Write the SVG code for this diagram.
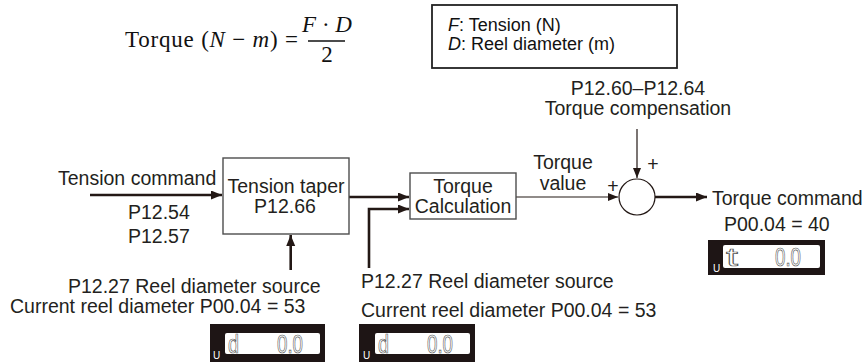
<svg xmlns="http://www.w3.org/2000/svg" width="862" height="362" viewBox="0 0 862 362">
<style>
.t{font-family:"Liberation Sans",Arial,sans-serif;font-size:19.5px;fill:#231f20}
.l{font-family:"Liberation Sans",Arial,sans-serif;font-size:18px;fill:#111}
.m{font-family:"Liberation Serif","DejaVu Serif",serif;font-size:23px;fill:#111}
.c{text-anchor:middle}
.box{fill:#fff;stroke:#4d4d4d;stroke-width:1.4}
.thick{stroke:#231815;stroke-width:2.6;fill:none}
.thin{stroke:#231815;stroke-width:1.2;fill:none}
.lcd{fill:#1e1515}
.scr{fill:#fff}
.u{font-family:"Liberation Sans",Arial,sans-serif;font-size:10px;fill:#fff}
.seg{font-family:"Liberation Sans",Arial,sans-serif;font-size:25px;fill:#fff;stroke:#555;stroke-width:0.7}
</style>
<defs>
<marker id="ah" markerUnits="userSpaceOnUse" markerWidth="12" markerHeight="10" refX="11" refY="4.5" orient="auto"><path d="M0,0 L11,4.5 L0,9 z" fill="#231815"/></marker>
<marker id="as" markerUnits="userSpaceOnUse" markerWidth="11" markerHeight="9" refX="10" refY="4" orient="auto"><path d="M0,0 L10,4 L0,8 z" fill="#231815"/></marker>
</defs>
<rect width="862" height="362" fill="#fff"/>

<g id="formula">
<text class="m" x="125" y="47" textLength="173">Torque (<tspan font-style="italic">N</tspan> − <tspan font-style="italic">m</tspan>) =</text>
<text class="m c" x="327" y="32"><tspan font-style="italic">F</tspan> · <tspan font-style="italic">D</tspan></text>
<line x1="308" y1="41" x2="345" y2="41" stroke="#111" stroke-width="1.3"/>
<text class="m c" x="327" y="62">2</text>
</g>

<g id="legend">
<rect x="432" y="5" width="245" height="63" fill="#fff" stroke="#222" stroke-width="1.8"/>
<text class="l" x="448" y="31"><tspan font-style="italic">F</tspan>: Tension (N)</text>
<text class="l" x="448" y="50"><tspan font-style="italic">D</tspan>: Reel diameter (m)</text>
</g>

<g id="connectors">
<path class="thick" d="M90,195 H222" marker-end="url(#ah)"/>
<path class="thick" d="M290.7,270 V235" marker-end="url(#ah)"/>
<path class="thick" d="M349,197 H409" marker-end="url(#ah)"/>
<path class="thick" d="M369,268 V209 H409" marker-end="url(#ah)"/>
<path class="thin" d="M516,197 H618" marker-end="url(#as)"/>
<path class="thin" d="M637,129 V178" marker-end="url(#as)"/>
<path class="thick" d="M655,197 H707" marker-end="url(#ah)"/>
</g>

<g id="tension-command">
<text class="t" x="58" y="185">Tension command</text>
<text class="t" x="128" y="219">P12.54</text>
<text class="t" x="128" y="243">P12.57</text>
</g>

<g id="tension-taper">
<rect class="box" x="223" y="158" width="126" height="76"/>
<text class="t c" x="286" y="193">Tension taper</text>
<text class="t c" x="285" y="213">P12.66</text>
</g>

<g id="torque-calculation">
<rect class="box" x="410" y="173" width="106" height="46"/>
<text class="t c" x="463" y="193">Torque</text>
<text class="t c" x="463" y="213">Calculation</text>
</g>

<g id="torque-value">
<text class="t c" x="563" y="169">Torque</text>
<text class="t c" x="563" y="190">value</text>
</g>

<g id="sum">
<circle cx="637" cy="197" r="18" fill="#fff" stroke="#231815" stroke-width="1.2"/>
<text class="t c" x="613" y="193" font-size="17">+</text>
<text class="t c" x="653" y="171" font-size="17">+</text>
</g>

<g id="torque-compensation">
<text class="t c" x="638" y="95">P12.60–P12.64</text>
<text class="t c" x="638" y="115">Torque compensation</text>
</g>

<g id="torque-command">
<text class="t" x="712" y="205">Torque command</text>
<text class="t" x="724" y="231">P00.04 = 40</text>
<rect class="lcd" x="708" y="240" width="117" height="35"/>
<rect class="scr" x="723" y="245" width="97" height="23" rx="2"/>
<text class="u" x="713" y="272">U</text>
<text class="seg" x="726" y="266" textLength="12" lengthAdjust="spacingAndGlyphs">t</text>
<text class="seg" x="775" y="266" textLength="26" lengthAdjust="spacingAndGlyphs">0.0</text>
</g>

<g id="reel-source-1">
<text class="t" x="68" y="293">P12.27 Reel diameter source</text>
<text class="t" x="10" y="313">Current reel diameter P00.04 = 53</text>
<rect class="lcd" x="210" y="324" width="115" height="40"/>
<rect class="scr" x="225" y="333" width="95" height="21" rx="2"/>
<text class="u" x="213" y="359">U</text>
<text class="seg" x="228" y="353" textLength="11" lengthAdjust="spacingAndGlyphs">d</text>
<text class="seg" x="277" y="353" textLength="26" lengthAdjust="spacingAndGlyphs">0.0</text>
</g>

<g id="reel-source-2">
<text class="t" x="361" y="288">P12.27 Reel diameter source</text>
<text class="t" x="361" y="317">Current reel diameter P00.04 = 53</text>
<rect class="lcd" x="359" y="324" width="116" height="40"/>
<rect class="scr" x="375" y="333" width="95" height="21" rx="2"/>
<text class="u" x="363" y="359">U</text>
<text class="seg" x="378" y="353" textLength="11" lengthAdjust="spacingAndGlyphs">d</text>
<text class="seg" x="427" y="353" textLength="26" lengthAdjust="spacingAndGlyphs">0.0</text>
</g>
</svg>
